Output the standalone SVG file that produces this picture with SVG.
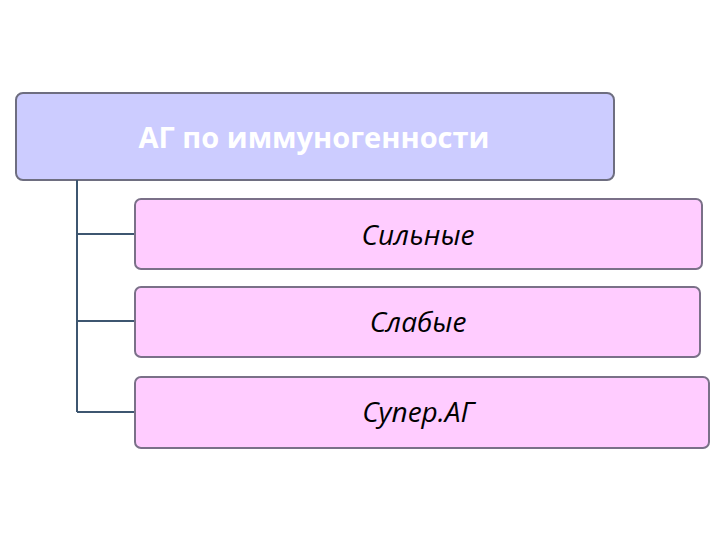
<svg xmlns="http://www.w3.org/2000/svg" width="720" height="540" viewBox="0 0 720 540">
<style>
.box{fill:#FFCCFF;stroke:#7a7088;stroke-width:2}
.ct{font-family:"Open Sans","DejaVu Sans",sans-serif;font-style:italic;font-size:28px;fill:#000;text-anchor:middle}
.ln{stroke:#3d5670;stroke-width:2;fill:none}
</style>
<rect width="720" height="540" fill="#fff"/>
<g id="root">
<rect x="16" y="93" width="598" height="87" rx="7" fill="#CCCCFF" stroke="#6e6e80" stroke-width="2"/>
<text x="314" y="148" font-family="'Open Sans','DejaVu Sans',sans-serif" font-weight="bold" font-size="29" fill="#fff" text-anchor="middle">АГ по иммуногенности</text>
</g>
<g id="connectors">
<path class="ln" d="M77 180V412M77 234H135M77 321H135M77 412H135"/>
</g>
<g id="n1"><rect class="box" x="135" y="199" width="567" height="70" rx="6"/><text class="ct" x="418" y="245">Сильные</text></g>
<g id="n2"><rect class="box" x="135" y="287" width="565" height="70" rx="6"/><text class="ct" x="418" y="332">Слабые</text></g>
<g id="n3"><rect class="box" x="135" y="377" width="574" height="71" rx="6"/><text class="ct" x="418" y="422">Супер.АГ</text></g>
</svg>
